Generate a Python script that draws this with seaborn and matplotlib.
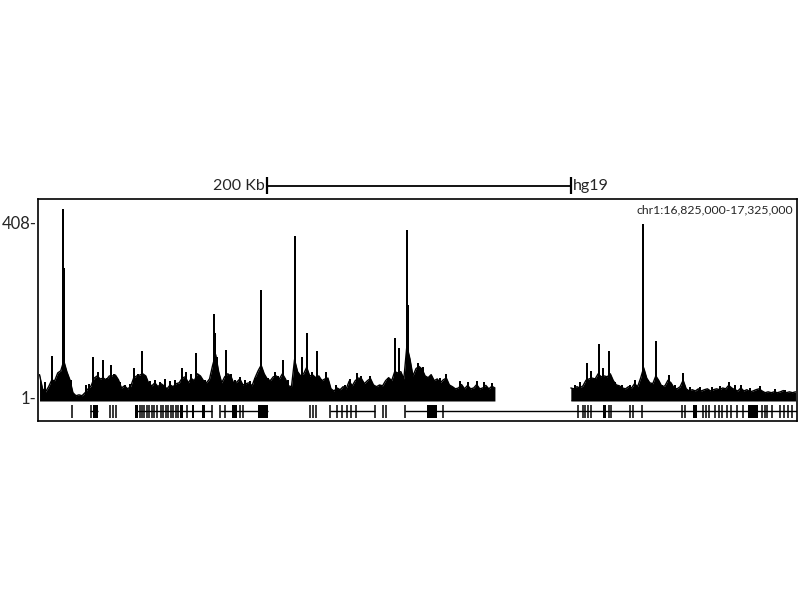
import numpy as np
import pandas as pd
import matplotlib
matplotlib.use("Agg")
import matplotlib.pyplot as plt
import seaborn as sns

sns.set_theme(style="white")
plt.rcParams["font.family"] = ["Lato", "DejaVu Sans"]

# region shown (hg19)
chrom = "chr1"
region_start = 16_825_000
region_end = 17_325_000
bin_kb = 2

# background coverage per 2 kb bin, left block (bins 0-150)
signal_left = [
    53, 20, 13, 25, 40, 39, 57, 62, 85, 60,
    41, 11, 4, 6, 4, 11, 20, 27, 45, 50,
    43, 45, 41, 50, 50, 52, 41, 22, 27, 20,
    25, 45, 50, 52, 55, 50, 32, 27, 34, 25,
    32, 27, 20, 29, 25, 32, 34, 45, 48, 34,
    44, 39, 55, 50, 39, 34, 43, 74, 100, 60,
    34, 48, 55, 50, 32, 36, 43, 29, 32, 34,
    27, 46, 62, 75, 55, 43, 39, 48, 50, 43,
    55, 43, 27, 25, 88, 60, 50, 55, 70, 50,
    52, 46, 50, 39, 43, 45, 20, 15, 22, 18,
    25, 20, 38, 27, 39, 45, 44, 32, 39, 44,
    29, 25, 29, 27, 39, 46, 39, 60, 57, 60,
    43, 120, 90, 50, 67, 72, 66, 50, 46, 53,
    39, 43, 34, 41, 45, 29, 25, 20, 22, 30,
    20, 28, 20, 22, 30, 20, 22, 28, 20, 26,
    22,
]
# no data for bins 151-174
gap_bins = 24
# right block (bins 175-249)
signal_right = [
    22, 20, 25, 22, 27, 40, 43, 45, 43, 55,
    48, 50, 48, 55, 39, 29, 27, 22, 20, 25,
    22, 32, 25, 45, 69, 45, 34, 32, 50, 39,
    25, 27, 40, 34, 22, 20, 25, 40, 20, 15,
    18, 15, 20, 15, 18, 20, 15, 18, 20, 18,
    22, 20, 28, 22, 18, 15, 22, 15, 18, 13,
    15, 18, 20, 15, 11, 13, 11, 13, 11, 13,
    16, 11, 13, 11, 13,
]

# narrow summits on top of the background (kb from region start, value)
peak_kb = [
    9.2, 16.5, 17.2, 21.7, 36.2, 42.8, 48.1, 63.2, 68.5, 94.9,
    104.1, 115.9, 116.6, 117.9, 123.9, 146.9, 161.4, 169.3, 173.9, 177.2,
    183.8, 189.7, 235.2, 237.8, 243.1, 243.8, 250.3, 361.7, 364.3, 369.6,
    372.2, 376.2, 393.3, 398.6, 407.2, 415.7, 424.9, 455.2, 463.1,
    4.6, 13.2, 31.6, 33.6, 39.5, 45.5, 50.1, 54.0, 57.3, 60.6,
    65.9, 73.8, 77.1, 80.4, 83.7, 87.0, 90.3, 97.5, 100.8, 106.7,
    110.0, 119.9, 127.1, 129.8, 133.1, 136.4, 139.7, 143.0, 151.5, 156.1,
    158.1, 164.7, 180.5, 186.4, 196.3, 202.3, 205.5, 210.2, 212.8, 218.7,
    225.3, 230.6, 246.4, 253.6, 258.3, 264.8, 268.8, 278.0, 283.3, 289.2,
    293.8, 299.1, 353.8, 357.1, 367.0, 374.2, 380.1, 384.7, 390.0, 401.9,
    411.1, 419.7, 429.5, 436.1, 444.0, 449.3, 459.2, 469.1, 475.7, 485.5,
    492.1,
]
peak_value = [
    97, 439, 300, 41, 95, 88, 76, 69, 109, 69,
    104, 195, 150, 95, 111, 251, 88, 376, 95, 150,
    109, 60, 139, 115, 390, 216, 81, 81, 62, 125,
    69, 109, 41, 404, 132, 53, 57, 36, 29,
    35, 45, 30, 32, 60, 45, 55, 35, 30, 32,
    55, 38, 40, 35, 42, 38, 40, 60, 55, 45,
    40, 42, 55, 40, 48, 40, 38, 46, 45, 60,
    50, 40, 60, 42, 30, 28, 43, 57, 50, 50,
    30, 46, 50, 70, 50, 45, 55, 39, 36, 39,
    36, 34, 30, 35, 45, 50, 35, 30, 30, 40,
    30, 28, 25, 24, 25, 26, 28, 22, 27, 20,
    18,
]

# gene track (kb from region start)
gene_starts = [34.3, 63.9, 119.9, 192.4, 241.8]
gene_ends = [39.5, 114.6, 151.5, 222.0, 500.0]
exon_ticks = [
    22.4, 34.9, 47.4, 49.4, 51.4, 67.2, 68.5, 69.8, 71.8, 73.1,
    75.1, 76.4, 78.4, 81.0, 82.4, 84.3, 85.6, 87.6, 88.9, 90.9,
    92.2, 98.2, 114.6, 119.9, 123.2, 133.1, 135.1, 179.2, 181.2, 183.1,
    192.4, 197.0, 200.3, 203.6, 206.2, 209.5, 222.0, 227.3, 229.3, 241.8,
    266.8, 355.8, 359.0, 360.4, 362.3, 364.3, 376.2, 377.5, 390.0, 392.0,
    397.9, 424.3, 426.2, 438.1, 440.1, 442.1, 446.0, 448.6, 450.6, 454.1,
    456.6, 460.2, 464.1, 476.9, 478.9, 480.3, 483.6, 488.9, 491.5, 494.2,
    496.8,
]
block_starts = [36.2, 63.9, 93.5, 101.5, 108.0, 127.8, 144.9, 256.3, 372.2, 431.5, 467.7]
block_ends = [39.5, 65.9, 95.5, 102.8, 110.0, 131.1, 151.5, 262.9, 374.2, 434.2, 474.3]

n_left = len(signal_left)
right_first = n_left + gap_bins
df = pd.DataFrame({
    "kb": np.concatenate([np.arange(n_left) * bin_kb + 1,
                          (np.arange(len(signal_right)) + right_first) * bin_kb + 1]),
    "signal": signal_left + signal_right,
    "segment": ["a"] * n_left + ["b"] * len(signal_right),
})
peaks = pd.DataFrame({"kb": peak_kb, "signal": peak_value})

W, H = 800, 600
fig = plt.figure(figsize=(8, 6), dpi=100)
fig.patch.set_facecolor("white")

box_l, box_r, box_t, box_b = 38, 797, 199, 421
sig_b = 401
ymin, ymax = -8.3, 461.5
span_kb = (region_end - region_start) / 1000

# outer frame
ax_frame = fig.add_axes([box_l / W, 1 - box_b / H, (box_r - box_l) / W, (box_b - box_t) / H])
ax_frame.set_xticks([])
ax_frame.set_yticks([])
for s in ax_frame.spines.values():
    s.set_visible(True)
    s.set_color("black")
    s.set_linewidth(1.2)

# signal track
ax_sig = fig.add_axes([box_l / W, 1 - sig_b / H, (box_r - box_l) / W, (sig_b - box_t) / H])
ax_sig.patch.set_alpha(0)
sns.lineplot(data=df, x="kb", y="signal", units="segment", estimator=None,
             color="black", lw=1.0, ax=ax_sig)
for _, d in df.groupby("segment"):
    ax_sig.fill_between(d["kb"], ymin, d["signal"], color="black", lw=0)
    ax_sig.hlines(ymin + 1, d["kb"].min(), d["kb"].max(), color="#a8a8a8", lw=1.5, zorder=0)
ax_sig.bar(peaks["kb"], peaks["signal"] - ymin, bottom=ymin, width=1.1,
           color="black", lw=0, align="center")
ax_sig.set_xlim(0, span_kb)
ax_sig.set_ylim(ymin, ymax)
ax_sig.set_xticks([])
ax_sig.set_yticks([1, 408], labels=["1-", "408-"])
ax_sig.tick_params(axis="y", length=0, pad=1, labelsize=12)
ax_sig.set_xlabel("")
ax_sig.set_ylabel("")
for s in ax_sig.spines.values():
    s.set_visible(False)
ax_sig.text(0.9947, 0.946, f"{chrom}:{region_start:,}-{region_end:,}",
            transform=ax_sig.transAxes, ha="right", va="center", fontsize=8.8)

# gene track
ax_gene = fig.add_axes([box_l / W, 1 - box_b / H, (box_r - box_l) / W, (box_b - sig_b) / H])
ax_gene.patch.set_alpha(0)
ax_gene.set_xlim(0, span_kb)
ax_gene.set_ylim(0, 20)
ax_gene.hlines([10] * len(gene_starts), gene_starts, gene_ends, color="black", lw=1)
ax_gene.vlines(exon_ticks, 3.5, 16.5, color="black", lw=1.1)
ax_gene.bar(block_starts, 13, width=np.subtract(block_ends, block_starts), bottom=3.5,
            color="black", align="edge", lw=0)
ax_gene.axis("off")

# scale bar
scale_kb = 200
scale_from = 150.9
ax_scale = fig.add_axes([box_l / W, 1 - box_t / H, (box_r - box_l) / W, 25 / H])
ax_scale.set_xlim(0, span_kb)
ax_scale.set_ylim(0, 1)
ax_scale.axis("off")
ax_scale.hlines(0.52, scale_from, scale_from + scale_kb, color="black", lw=1.3)
ax_scale.vlines([scale_from, scale_from + scale_kb], 0.2, 0.88, color="black", lw=1.6)
ax_scale.text(scale_from - 1.5, 0.52, f"{scale_kb} Kb", ha="right", va="center", fontsize=11.5)
ax_scale.text(scale_from + scale_kb + 1.2, 0.52, "hg19", ha="left", va="center", fontsize=11.5)

fig.savefig("out.png", dpi=100, facecolor="white")
